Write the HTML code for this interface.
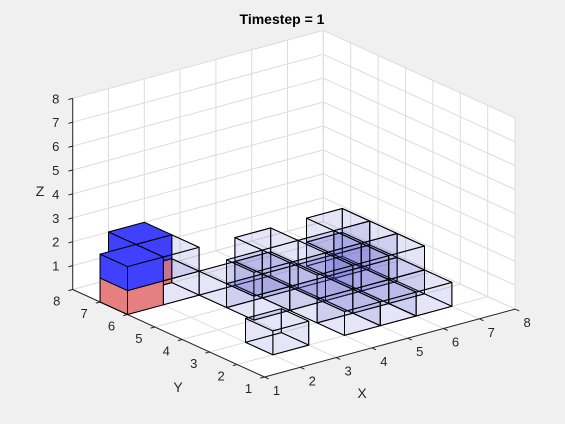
<!DOCTYPE html>
<html><head><meta charset="utf-8"><style>
html,body{margin:0;padding:0;background:#f0f0f0;}
svg{display:block;font-family:"Liberation Sans",sans-serif;}
</style></head><body>
<svg id="chart" width="565" height="424" viewBox="0 0 565 424" xmlns="http://www.w3.org/2000/svg">
<rect x="0" y="0" width="565" height="424" fill="#f0f0f0"/>
<g id="walls"></g>
<g id="grid"></g>
<g id="axes"></g>
<g id="cubes"></g>
<g id="labels"></g>
<text x="282" y="24" text-anchor="middle" font-size="14" font-weight="bold" fill="#000">Timestep = 1</text>
<text x="362" y="398" text-anchor="middle" font-size="14" fill="#262626">X</text>
<text x="178" y="392" text-anchor="middle" font-size="14" fill="#262626">Y</text>
<text x="40" y="196" text-anchor="middle" font-size="14" fill="#262626">Z</text>
</svg>
<script>
// ---- data ----
var xTicks = [1,2,3,4,5,6,7,8];
var yTicks = [1,2,3,4,5,6,7,8];
var zTicks = [1,2,3,4,5,6,7,8];
var redX = [1,2];
var redY = [6,7];
var redZ = [0,0];
var blueX = [1,2];
var blueY = [6,7];
var blueZ = [1,1];
var transX = [2,2,3,3,3,4,4,4,2,4,5,6,4,4,5,5,5,5,6,6,6,6,6,6];
var transY = [6,6,5,4,4,5,5,4,2,2,2,2,3,3,3,3,4,4,3,3,4,4,5,5];
var transZ = [0,1,0,0,1,0,1,0,0,0,0,0,0,1,0,1,0,1,0,1,0,1,0,1];

// ---- projection ----
var X0=1,X1=8,Y0=1,Y1=8,Z0=0,Z1=8;
function P(x,y,z){
  return [264.5+(x-1)*35.8-(y-1)*27.4, 377-(x-1)*9.7-(y-1)*12.5-z*23.9];
}
var NS="http://www.w3.org/2000/svg";
function mk(tag,parent,attrs){
  var e=document.createElementNS(NS,tag);
  for(var k in attrs) e.setAttribute(k,attrs[k]);
  document.getElementById(parent).appendChild(e);
  return e;
}
function pts(arr){return arr.map(function(p){return p[0].toFixed(1)+","+p[1].toFixed(1);}).join(" ");}

var w1=mk("polygon","walls",{points:pts([P(X0,Y0,Z0),P(X1,Y0,Z0),P(X1,Y1,Z0),P(X0,Y1,Z0)]),fill:"#fff"});


var w2=mk("polygon","walls",{points:pts([P(X0,Y1,Z0),P(X1,Y1,Z0),P(X1,Y1,Z1),P(X0,Y1,Z1)]),fill:"#fff"});


var w3=mk("polygon","walls",{points:pts([P(X1,Y0,Z0),P(X1,Y1,Z0),P(X1,Y1,Z1),P(X1,Y0,Z1)]),fill:"#fff"});



function gl(a,b,name){
  var l=mk("line","grid",{x1:a[0],y1:a[1],x2:b[0],y2:b[1],stroke:"#dcdcdc","stroke-width":1});
  
  
}
xTicks.forEach(function(x){gl(P(x,Y0,0),P(x,Y1,0),'floor-grid-x');gl(P(x,Y1,Z0),P(x,Y1,Z1),'wall-grid-x');});
yTicks.forEach(function(y){gl(P(X0,y,0),P(X1,y,0),'floor-grid-y');gl(P(X1,y,Z0),P(X1,y,Z1),'wall-grid-y');});
[0].concat(zTicks).forEach(function(z){gl(P(X0,Y1,z),P(X1,Y1,z),'wall-grid-z');gl(P(X1,Y0,z),P(X1,Y1,z),'wall-grid-z');});

function al(a,b,name){
  var l=mk("line","axes",{x1:a[0],y1:a[1],x2:b[0],y2:b[1],stroke:"#262626","stroke-width":1});
  
  
}
al(P(X0,Y0,0),P(X1,Y0,0),'x-axis-line');
al(P(X0,Y0,0),P(X0,Y1,0),'y-axis-line');
al(P(X0,Y1,Z0),P(X0,Y1,Z1),'z-axis-line');
xTicks.forEach(function(x){var a=P(x,Y0,0),b=P(x,Y0-0.15,0);al(a,b,'x-tick');
  var t=mk("text","labels",{x:a[0]+12,y:a[1]+18,"text-anchor":"middle","font-size":13,fill:"#262626"});t.textContent=x;
  
  });
yTicks.forEach(function(y){var a=P(X0,y,0),b=P(X0-0.12,y,0);al(a,b,'y-tick');
  var t=mk("text","labels",{x:a[0]-16,y:a[1]+16,"text-anchor":"middle","font-size":13,fill:"#262626"});t.textContent=y;
  
  });
zTicks.forEach(function(z){var a=P(X0,Y1,z),b=P(X0-0.12,Y1,z);al(a,b,'z-tick');
  var t=mk("text","labels",{x:a[0]-17,y:a[1]+5,"text-anchor":"middle","font-size":13,fill:"#262626"});t.textContent=z;
  
  });

var faces=[];
function addCube(x,y,z,fill,op,name){
  var c=[[x,y,z],[x+1,y,z],[x+1,y+1,z],[x,y+1,z],[x,y,z+1],[x+1,y,z+1],[x+1,y+1,z+1],[x,y+1,z+1]];
  var F=[[0,1,2,3],[4,5,6,7],[0,1,5,4],[3,2,6,7],[0,3,7,4],[1,2,6,5]];
  F.forEach(function(f){
    var cx=0,cy=0,cz=0;f.forEach(function(i){cx+=c[i][0];cy+=c[i][1];cz+=c[i][2];});
    cx/=4;cy/=4;cz/=4;
    faces.push({p:f.map(function(i){return P(c[i][0],c[i][1],c[i][2]);}),d:0.61*cx+0.79*cy-0.58*cz,fill:fill,op:op,name:name});
  });
}
for(var i=0;i<transX.length;i++) addCube(transX[i],transY[i],transZ[i],"#4040c8",0.07,'transparent-cube-face');
for(var i=0;i<redX.length;i++) addCube(redX[i],redY[i],redZ[i],"#e68080",1,'red-cube-face');
for(var i=0;i<blueX.length;i++) addCube(blueX[i],blueY[i],blueZ[i],"#4040ff",1,'blue-cube-face');
faces.sort(function(a,b){return b.d-a.d;});
faces.forEach(function(f){
  var e=mk("polygon","cubes",{points:pts(f.p),fill:f.fill,"fill-opacity":f.op,stroke:"#000","stroke-width":1,"stroke-linejoin":"round"});
  
  
});
</script>
</body></html>
